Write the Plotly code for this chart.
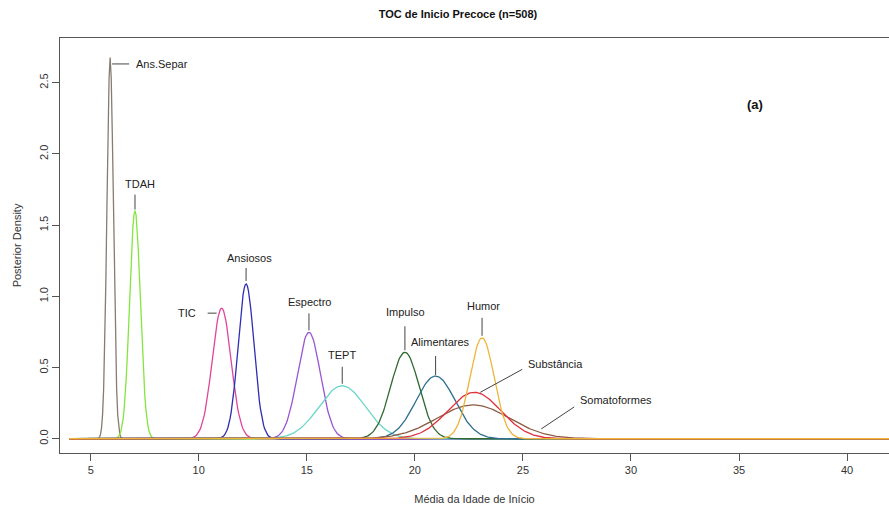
import numpy as np
import plotly.graph_objects as go

# Posterior distributions of the mean age of onset per comorbidity group
groups = ["Ans.Separ", "TDAH", "TIC", "Ansiosos", "Espectro", "TEPT",
          "Impulso", "Alimentares", "Somatoformes", "Substância", "Humor"]
post_mean = [5.9, 7.05, 11.06, 12.19, 15.10, 16.64, 19.54, 20.96, 22.70, 22.75, 23.11]
post_sd = [0.149, 0.249, 0.435, 0.367, 0.534, 1.072, 0.657, 0.906, 1.68, 1.224, 0.563]

colors = ["#867c72", "#84e63c", "#e0449a", "#2d2db5", "#9a55d2", "#6dd6cb",
          "#2f6a31", "#2e6e8e", "#8b5a40", "#e0303c", "#efb43a"]

# Leader line (pixel offsets from the peak, +y up) and label placement
label_style = {
    "Ans.Separ":    dict(line=(2, -6.5, 19, -6.5), shift=(24, -6.5), anchor="left"),
    "TDAH":         dict(line=(0, 1, 0, 16), shift=(5, 26.5), anchor="center"),
    "TIC":          dict(line=(-5, -5, -14, -5), shift=(-24, -5), anchor="right"),
    "Ansiosos":     dict(line=(0, 3, 0, 16), shift=(3, 26), anchor="center"),
    "Espectro":     dict(line=(0, 2, 0, 19), shift=(1, 30), anchor="center"),
    "TEPT":         dict(line=(0, 2, 0, 19), shift=(0, 31), anchor="center"),
    "Impulso":      dict(line=(0, 2, 0, 26), shift=(1, 40), anchor="center"),
    "Alimentares":  dict(line=(0, 1, 0, 20), shift=(5, 34.5), anchor="center"),
    "Humor":        dict(line=(0, 2, 0, 20), shift=(1, 32), anchor="center"),
    "Substância":   dict(line=(6, 0, 48, 23), shift=(52, 28), anchor="left"),
    "Somatoformes": dict(line=(68, -24, 101, -2), shift=(105, 5), anchor="left"),
}

age = np.arange(4.0, 46.0, 0.05)

fig = go.Figure()
shapes = []
annotations = []
font_family = "Liberation Sans, Arial, sans-serif"

for name, mu, sd, col in zip(groups, post_mean, post_sd, colors):
    dens = np.exp(-0.5 * ((age - mu) / sd) ** 2) / (sd * np.sqrt(2 * np.pi))
    fig.add_trace(go.Scatter(x=age, y=dens, mode="lines", name=name,
                             line=dict(color=col, width=1.3), hoverinfo="name"))
    peak = 1.0 / (sd * np.sqrt(2 * np.pi))
    st = label_style[name]
    x0, y0, x1, y1 = st["line"]
    shapes.append(dict(type="line", xref="x", yref="y",
                       xsizemode="pixel", ysizemode="pixel",
                       xanchor=mu, yanchor=peak,
                       x0=x0, y0=y0, x1=x1, y1=y1,
                       line=dict(color="#444444", width=1)))
    annotations.append(dict(x=mu, y=peak, xref="x", yref="y", text=name,
                            showarrow=False, xanchor=st["anchor"], yanchor="middle",
                            xshift=st["shift"][0], yshift=st["shift"][1],
                            font=dict(family=font_family, size=11, color="#222222")))

# panel tag
annotations.append(dict(x=0.8385, y=0.8386, xref="paper", yref="paper",
                        xanchor="center", yanchor="middle",
                        text="<b>(a)</b>", showarrow=False,
                        font=dict(family=font_family, size=13, color="#111111")))

fig.update_layout(
    width=889, height=506,
    margin=dict(l=60, r=0, t=38, b=53),
    paper_bgcolor="white", plot_bgcolor="white",
    showlegend=False,
    title=dict(text="<b>TOC de Inicio Precoce (n=508)</b>", x=458 / 889, xanchor="center",
               y=1 - 14 / 506, yanchor="middle",
               font=dict(family=font_family, size=11, color="#111111")),
    shapes=shapes,
    annotations=annotations,
    font=dict(family=font_family, color="#333333"),
)

fig.update_xaxes(
    range=[3.58, 41.94], tickvals=[5, 10, 15, 20, 25, 30, 35, 40],
    showgrid=False, zeroline=False, showline=True, mirror=True,
    linecolor="#555555", linewidth=1,
    ticks="outside", ticklen=7, tickcolor="#555555",
    tickfont=dict(size=11, color="#333333"),
    title=dict(text="Média da Idade de Início", standoff=20,
               font=dict(size=11, color="#333333")),
)
fig.update_yaxes(
    range=[-0.1, 2.814], tickvals=[0, 0.5, 1.0, 1.5, 2.0, 2.5],
    ticktext=["0.0", "0.5", "1.0", "1.5", "2.0", "2.5"],
    showgrid=False, zeroline=False, showline=True, mirror=False,
    linecolor="#555555", linewidth=1,
    ticks="outside", ticklen=7, tickcolor="#555555", tickangle=-90,
    tickfont=dict(size=11, color="#333333"),
    title=dict(text="Posterior Density", standoff=13,
               font=dict(size=11, color="#333333")),
)

fig.write_html("out.html")
